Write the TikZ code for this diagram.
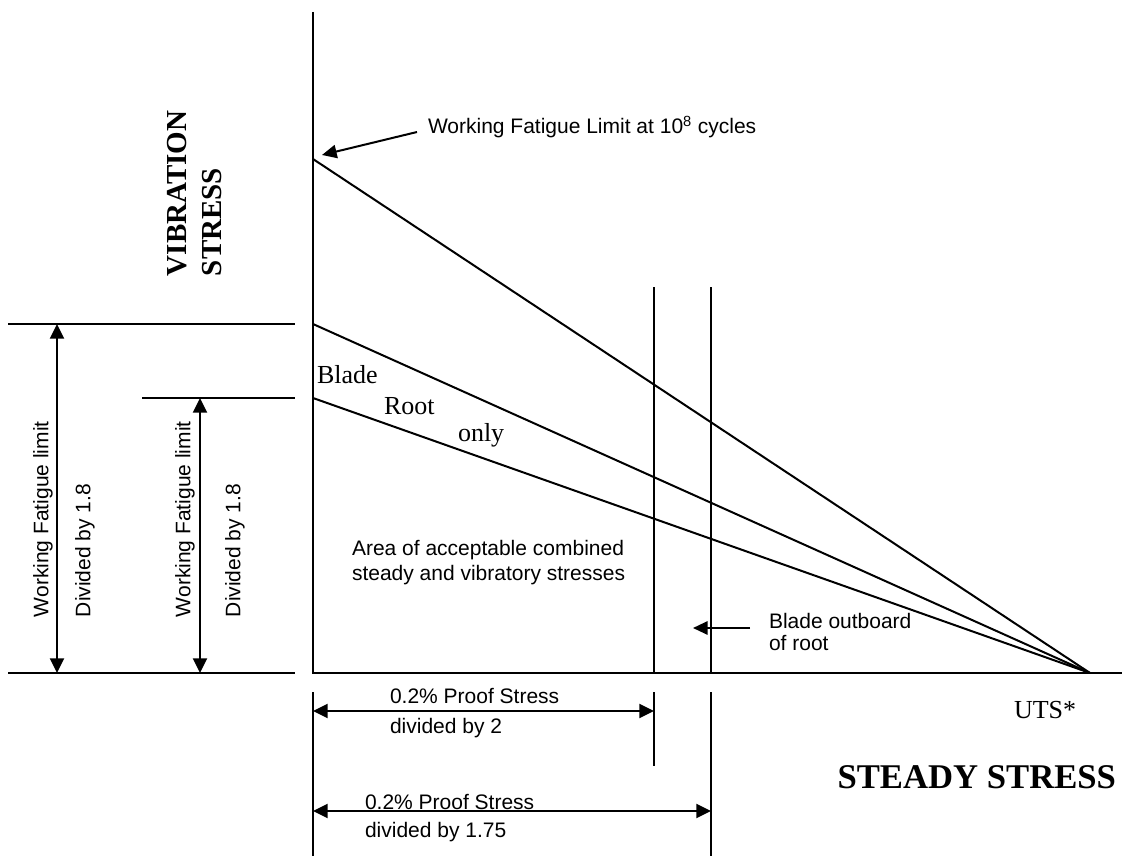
\documentclass[tikz,border=0pt]{standalone}
\usepackage{fontspec}
\setmainfont{Liberation Serif}
\setsansfont{Liberation Sans}
\usetikzlibrary{arrows.meta}
\begin{document}
\begin{tikzpicture}[
		x=0.75pt, y=-0.75pt,
		line width=1.5pt,
		tip/.style={-{Triangle[length=11pt,width=10pt]}},
		dimline/.style={{Triangle[length=11pt,width=10.5pt]}-{Triangle[length=11pt,width=10.5pt]}},
		sanslabel/.style={font=\sffamily\fontsize{15.75}{18.75}\selectfont, inner sep=0pt},
		seriflabel/.style={font=\rmfamily\fontsize{19.5}{23}\selectfont, inner sep=0pt},
		axislabel/.style={font=\rmfamily\bfseries\fontsize{21.75}{26}\selectfont, inner sep=0pt}
	]
	\useasboundingbox (0,0) rectangle (1122,856);
	% axes
	\coordinate (top) at (313,12);
	\coordinate (origin) at (313,673);
	\coordinate (fatigue) at (313,159);
	\coordinate (limitA) at (313,324);
	\coordinate (limitB) at (313,398);
	\coordinate (uts) at (1090,673);
	\draw (top) -- (origin) -- (1122,673);
	\draw (313,692) -- (313,856);
	\draw (8,673) -- (295,673);
	% limit lines
	\draw (fatigue) -- (uts);
	\draw (limitA) -- (uts);
	\draw (limitB) -- (uts);
	% proof stress lines
	\draw (654,287) -- (654,673);
	\draw (654,692) -- (654,766);
	\draw (711,287) -- (711,673);
	\draw (711,692) -- (711,856);
	% extension lines
	\draw (8,324) -- (295,324);
	\draw (142,398) -- (295,398);
	% dimensions
	\coordinate (dimAtop) at (57,324);
	\coordinate (dimAbot) at (57,673);
	\coordinate (dimBtop) at (200,398);
	\coordinate (dimBbot) at (200,673);
	\draw[dimline] (dimAtop) -- (dimAbot);
	\draw[dimline] (dimBtop) -- (dimBbot);
	\coordinate (proofAl) at (313,711);
	\coordinate (proofAr) at (654,711);
	\coordinate (proofBl) at (313,811);
	\coordinate (proofBr) at (711,811);
	\draw[dimline] (proofAl) -- (proofAr);
	\draw[dimline] (proofBl) -- (proofBr);
	% labels
	\node[sanslabel, anchor=west] (cycles) at (427,127) {Working Fatigue Limit at 10\textsuperscript{8} cycles};
	\coordinate (cyclestail) at (417,132);
	\draw[tip] (cyclestail) -- (322,155);
	\node[axislabel, rotate=90, anchor=west] (vib) at (177,277) {VIBRATION};
	\node[axislabel, rotate=90, anchor=west] (vibstress) at (212,277) {STRESS};
	\node[seriflabel, anchor=west] (blade) at (316,375) {Blade};
	\node[seriflabel, anchor=west] (root) at (383,406) {Root};
	\node[seriflabel, anchor=west] (only) at (457,435) {only};
	\node[sanslabel, anchor=west, align=left] (area) at (351,563)
		{Area of acceptable combined\\steady and vibratory stresses};
	\node[sanslabel, anchor=west, align=left] (outboard) at (768,632) {Blade outboard\\[-2pt]of root};
	\coordinate (outboardtail) at (750,628);
	\draw[tip] (outboardtail) -- (693,628);
	\node[sanslabel, rotate=90, anchor=west] (wflA) at (43,618) {Working Fatigue limit};
	\node[sanslabel, rotate=90, anchor=west] (divA) at (85,618) {Divided by 1.8};
	\node[sanslabel, rotate=90, anchor=west] (wflB) at (185,618) {Working Fatigue limit};
	\node[sanslabel, rotate=90, anchor=west] (divB) at (235,618) {Divided by 1.8};
	\node[sanslabel, anchor=west] (proofA) at (389,696) {0.2\% Proof Stress};
	\node[sanslabel, anchor=west] (proofAdiv) at (389,728) {divided by 2};
	\node[sanslabel, anchor=west] (proofB) at (364,802) {0.2\% Proof Stress};
	\node[sanslabel, anchor=west] (proofBdiv) at (364,832) {divided by 1.75};
	\node[seriflabel, anchor=west] (utslabel) at (1013,710) {UTS*};
	\node[font=\rmfamily\bfseries\fontsize{26}{30}\selectfont, inner sep=0pt, anchor=east] (steady) at (1117,777) {STEADY STRESS};
\end{tikzpicture}
\end{document}
